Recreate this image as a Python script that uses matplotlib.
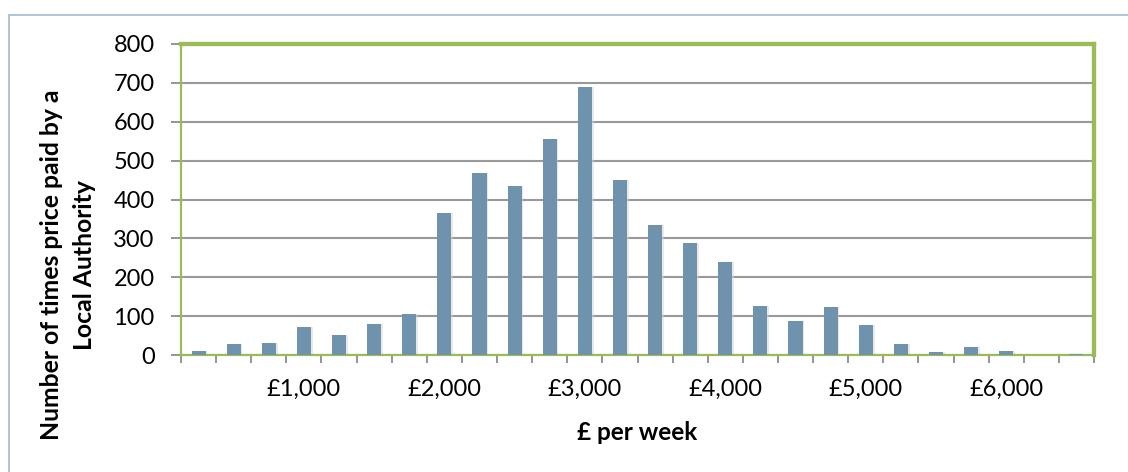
import matplotlib
matplotlib.use("Agg")
import matplotlib.pyplot as plt
from matplotlib.patches import Rectangle
from matplotlib.ticker import FixedLocator
import numpy as np

plt.rcParams['font.family'] = ['Lato', 'DejaVu Sans']

# weekly price bands (upper bound of each £250 band) and how often each was paid
band_tops = list(range(250, 6501, 250))
counts = [10, 29, 32, 72, 51, 81, 105, 364, 467, 435, 555, 690, 451,
          335, 287, 239, 126, 87, 123, 76, 28, 9, 21, 11, 0, 3]
label_every = 4

bar_color = '#7093ad'
green = '#9bbb59'
grid_color = '#999999'

fig = plt.figure(figsize=(11.28, 4.72), dpi=100)
W, H = 1128, 472
ax = fig.add_axes([181 / W, 1 - 355 / H, (1094 - 181) / W, (355 - 44) / H])

x = np.arange(len(counts))
# soft drop shadow behind the columns
ax.bar(x + 0.05, counts, width=0.4, color='#d4d4d4', alpha=0.5, zorder=2,
       linewidth=0)
ax.bar(x, counts, width=0.4, color=bar_color, zorder=3, linewidth=0)

ax.set_xlim(-0.5, len(counts) - 0.5)
ax.set_ylim(0, 800)
ax.set_yticks(range(0, 801, 100))
ax.yaxis.grid(True, color=grid_color, linewidth=1.5, zorder=1)
ax.set_axisbelow(True)

# category labels every 4th band, tick marks on band boundaries
lab_idx = [i for i in range(len(band_tops)) if (i + 1) % label_every == 0]
ax.set_xticks(lab_idx)
ax.set_xticklabels(['£{:,}'.format(band_tops[i]) for i in lab_idx])
ax.xaxis.set_minor_locator(FixedLocator(np.arange(-0.5, len(counts), 1.0)))
ax.tick_params(axis='x', which='major', length=0, pad=17, labelsize=17)
ax.tick_params(axis='x', which='minor', length=6, width=1.3, color='#8c8c8c',
               direction='out')
ax.tick_params(axis='y', length=7, width=1.3, color='#8c8c8c', pad=12,
               labelsize=17)

for side in ['top', 'right']:
    ax.spines[side].set_color(green)
    ax.spines[side].set_linewidth(3.1)
for side in ['left', 'bottom']:
    ax.spines[side].set_color(green)
    ax.spines[side].set_linewidth(1.6)

fig.text(637 / W, 1 - 432 / H, '£ per week', ha='center', va='center',
         fontsize=17.5, fontweight='bold')
fig.text(68 / W, 1 - 265 / H, 'Number of times price paid by a\nLocal Authority',
         ha='center', va='center', rotation=90, fontsize=17.8,
         fontweight='bold', linespacing=1.55)

# outer chart frame
fig.patches.append(Rectangle((9 / W, -0.1), 1.2, 1 - 14.5 / H + 0.1,
                             transform=fig.transFigure, fill=False,
                             edgecolor='#a7c0d6', linewidth=1.3))

fig.savefig('out.png', dpi=100)
